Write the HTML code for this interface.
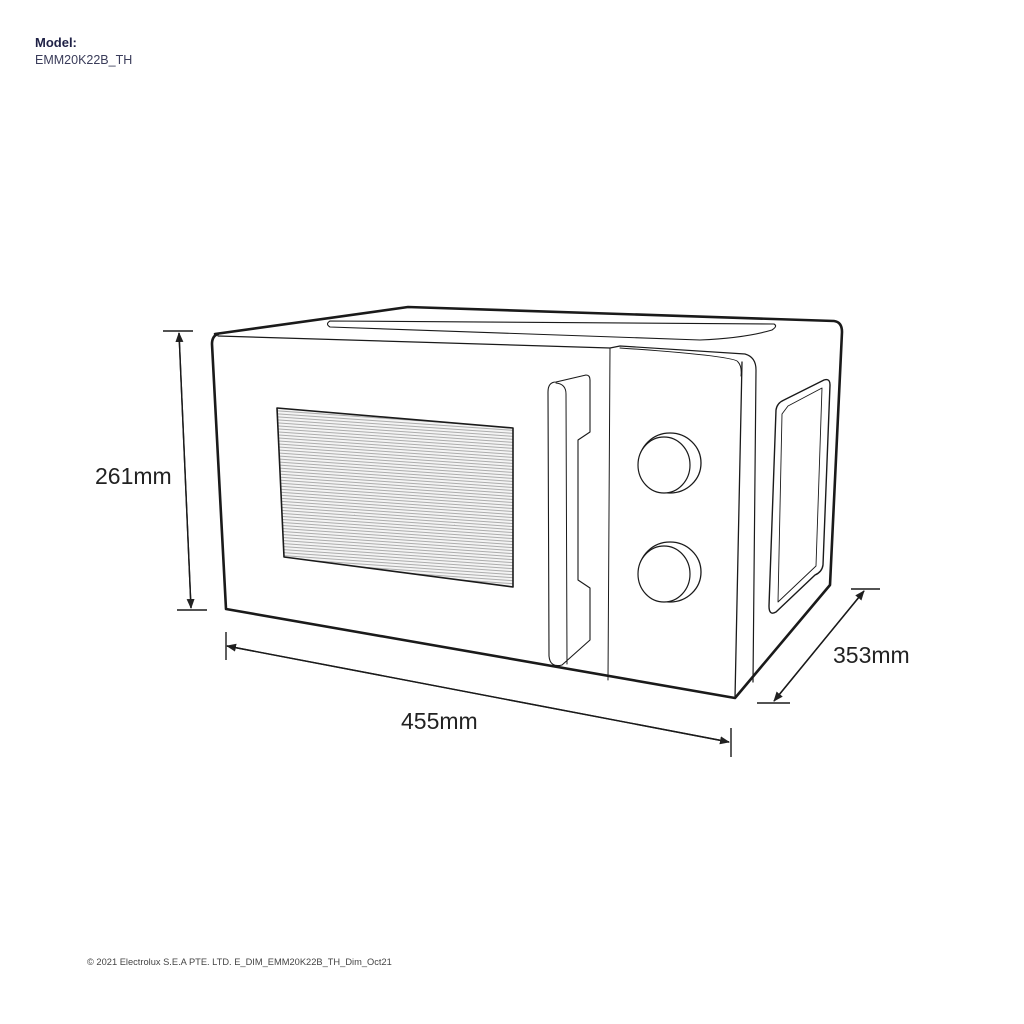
<!DOCTYPE html>
<html><head><meta charset="utf-8"><style>
html,body{margin:0;padding:0;background:#fff;}
svg{display:block;}
text{font-family:"Liberation Sans",sans-serif;}
</style></head><body>
<svg width="1024" height="1024" viewBox="0 0 1024 1024" xmlns="http://www.w3.org/2000/svg">
<defs>
<pattern id="hatch" width="4" height="3" patternUnits="userSpaceOnUse" patternTransform="rotate(4)">
<rect width="4" height="3" fill="#f4f4f4"/>
<line x1="0" y1="0.5" x2="4" y2="0.5" stroke="#9a9a9a" stroke-width="0.8"/>
</pattern>
<marker id="ah" markerWidth="10" markerHeight="8" refX="9" refY="4" orient="auto" markerUnits="userSpaceOnUse">
<path d="M0,0 L10,4 L0,8 z" fill="#222"/>
</marker>
</defs>
<text x="35" y="47" font-size="13" font-weight="bold" fill="#1f2146">Model:</text>
<text x="35" y="64" font-size="12.5" fill="#3a3c5a">EMM20K22B_TH</text>

<g fill="none" stroke="#1a1a1a" stroke-linejoin="round" stroke-linecap="round">
<!-- outer silhouette -->
<path d="M215,334 L408,307 L834,321 Q842,322 842,332 L830,585 L735,698 L226,609 L212,344 Q212,336 218,334" stroke-width="2.6"/>
<!-- front top edge -->
<path d="M218,336 L610,348 L620,346 L745,354 Q756,357 756,370 L753,682" stroke-width="1.2"/>
<!-- front right edge -->
<path d="M742,362 L735,698" stroke-width="1.3"/>
<path d="M610,348 L608,680" stroke-width="1"/>
<path d="M620,348 Q736,356 738,362 Q742,366 741,376" stroke-width="1"/>
<!-- vent -->
<path d="M330,321 L774,324 Q778,326 772,330 Q745,338 700,340 L330,327 Q325,324 330,321 z" stroke-width="1.1"/>
<!-- window -->
<polygon points="277,408 513,428 513,587 284,557" fill="url(#hatch)" stroke-width="1.6"/>
<!-- handle -->
<path d="M548,392 Q548,382 556,382 L586,375 Q590,375 590,380 L590,432 L578,440 L578,580 L590,588 L590,640 L562,665 Q550,668 549,656 Z" stroke-width="1.1"/>
<path d="M556,383 Q566,384 566,394 L567,664" stroke-width="1"/>
<!-- knobs -->
<ellipse cx="670" cy="463" rx="31" ry="30" stroke-width="1.3" fill="#fff"/>
<ellipse cx="664" cy="465" rx="26" ry="28" stroke-width="1.2" fill="#fff"/>
<ellipse cx="670" cy="572" rx="31" ry="30" stroke-width="1.3" fill="#fff"/>
<ellipse cx="664" cy="574" rx="26" ry="28" stroke-width="1.2" fill="#fff"/>
<!-- side window -->
<path d="M784,400 L824,380 Q830,378 830,385 L823,565 Q822,572 815,575 L776,612 Q769,616 769,606 L776,410 Q777,403 784,400 z" stroke-width="1.4"/>
<path d="M788,406 L822,388 L816,566 L778,602 L782,414 z" stroke-width="0.9"/>
</g>

<!-- dimension lines -->
<g stroke="#1a1a1a" stroke-width="1.4" fill="none">
<line x1="163" y1="331" x2="193" y2="331"/>
<line x1="177" y1="610" x2="207" y2="610"/>
<line x1="191" y1="608" x2="179" y2="333" marker-end="url(#ah)"/>
<line x1="179" y1="333" x2="191" y2="608" marker-end="url(#ah)"/>
<line x1="226" y1="632" x2="226" y2="660"/>
<line x1="731" y1="728" x2="731" y2="757"/>
<line x1="729" y1="742" x2="227" y2="646" marker-end="url(#ah)"/>
<line x1="227" y1="646" x2="729" y2="742" marker-end="url(#ah)"/>
<line x1="851" y1="589" x2="880" y2="589"/>
<line x1="757" y1="703" x2="790" y2="703"/>
<line x1="774" y1="701" x2="864" y2="591" marker-end="url(#ah)"/>
<line x1="864" y1="591" x2="774" y2="701" marker-end="url(#ah)"/>
</g>
<text x="95" y="484" font-size="23" fill="#222">261mm</text>
<text x="401" y="729" font-size="23" fill="#222">455mm</text>
<text x="833" y="663" font-size="23" fill="#222">353mm</text>

<text x="87" y="965" font-size="9.3" fill="#444">© 2021 Electrolux S.E.A PTE. LTD. E_DIM_EMM20K22B_TH_Dim_Oct21</text>
</svg>
</body></html>
